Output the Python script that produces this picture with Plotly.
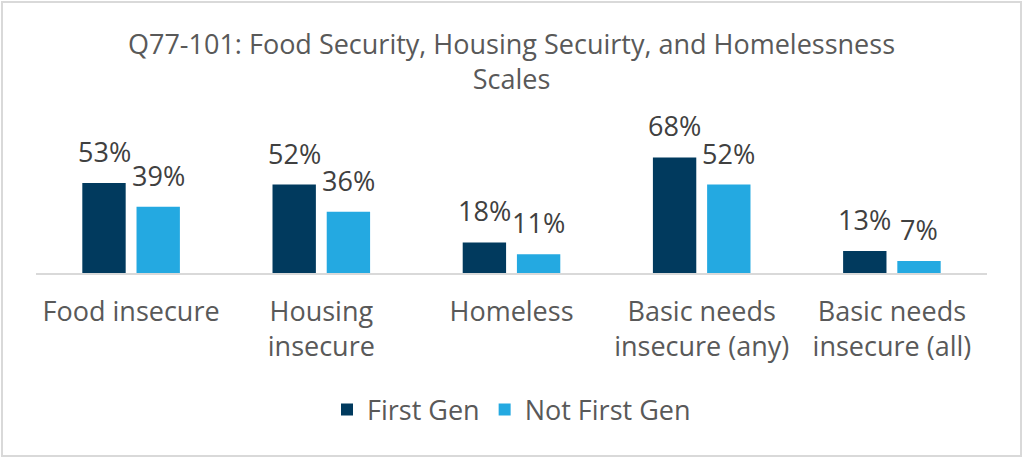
import plotly.graph_objects as go

categories = ["Food insecure", "Housing<br>insecure", "Homeless", "Basic needs<br>insecure (any)", "Basic needs<br>insecure (all)"]
first_gen = [0.53, 0.52, 0.18, 0.68, 0.13]
not_first_gen = [0.39, 0.36, 0.11, 0.52, 0.07]
series_names = ["First Gen", "Not First Gen"]
colors = ["#013A5E", "#24A9E1"]

FONT = "Open Sans"
FS = 27
W, H = 1024, 459
L, R, T, B = 36, 37, 137, 186

fig = go.Figure()
for name, vals, col in zip(series_names, [first_gen, not_first_gen], colors):
    fig.add_trace(go.Bar(
        x=categories, y=vals, name=name, marker=dict(color=col, line=dict(width=0)),
        offsetgroup=name,
    ))

annots = []
for i, cat in enumerate(categories):
    for j, vals in enumerate([first_gen, not_first_gen]):
        annots.append(dict(
            x=cat, y=vals[i], xref="x", yref="y",
            text=f"{round(vals[i]*100)}%", showarrow=False,
            yanchor="bottom", yshift=11, xshift=(-27 if j == 0 else 27),
            font=dict(family=FONT, size=FS, color="#404040"),
        ))

pw = W - L - R
ph = H - T - B
fig.add_shape(type="rect", xref="paper", yref="paper",
              x0=(2 - L) / pw, x1=(W - 3 - L) / pw,
              y0=(ph - (H - 3 - T)) / ph, y1=(ph - (2 - T)) / ph,
              line=dict(color="#D9D9D9", width=2), layer="below")

fig.update_layout(
    width=W, height=H,
    margin=dict(l=L, r=R, t=T, b=B),
    paper_bgcolor="white", plot_bgcolor="white",
    barmode="group", bargap=0.43, bargroupgap=0.2,
    title=dict(text="Q77-101: Food Security, Housing Secuirty, and Homelessness<br>Scales",
               x=0.5, xanchor="center", xref="paper", y=1 - 54 / H, yanchor="top", yref="container",
               font=dict(family=FONT, size=FS, color="#595959")),
    font=dict(family=FONT, size=FS, color="#595959"),
    legend=dict(orientation="h", x=0.5, xanchor="center", y=(ph - (410 - T)) / ph, yanchor="middle",
                font=dict(family=FONT, size=FS, color="#595959"), itemwidth=30,
                traceorder="normal"),
    annotations=annots,
    showlegend=True,
)
fig.update_xaxes(showline=True, linecolor="#D9D9D9", linewidth=1.5, ticks="outside", ticklen=14,
                 tickcolor="rgba(0,0,0,0)", tickfont=dict(family=FONT, size=FS, color="#595959"),
                 showgrid=False)
fig.update_yaxes(range=[0, 0.8], showticklabels=False, showgrid=False, zeroline=False, showline=False)

fig.write_html("out.html", config={"displayModeBar": False},
               post_script="document.body.style.margin='0';document.body.style.overflow='hidden';")
